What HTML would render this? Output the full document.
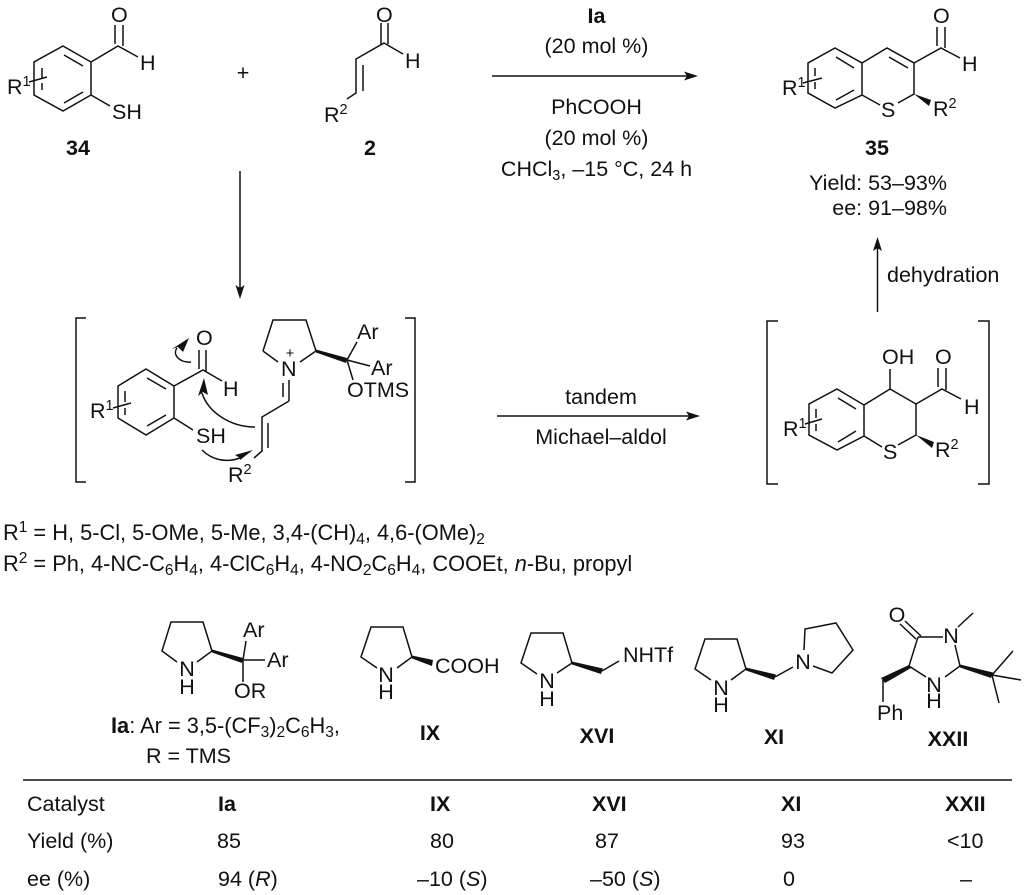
<!DOCTYPE html>
<html><head><meta charset="utf-8"><style>
html,body{margin:0;padding:0;background:#fff}
svg{display:block}
text{font-family:"Liberation Sans",sans-serif;font-size:21.5px;fill:#111}
.b{font-weight:bold}
.m{text-anchor:middle}
.e{text-anchor:end}
.s{font-size:14.5px}
.w{font-size:21.8px}
.w .s{font-size:15.5px}
.l{fill:none;stroke:#111;stroke-width:1.5;stroke-linecap:butt;stroke-linejoin:miter}
.t{stroke:none;fill:#111}
</style></head><body>
<svg width="1024" height="895" viewBox="0 0 1024 895" xmlns="http://www.w3.org/2000/svg">
<!-- 34 -->
<path class="l" d="M63,46L91,62L91,95L63,111L34,95L34,62Z M64,55L83,66 M83,92L64,103 M42,68V78 M42,83V90 M29,82L47,77 M91,62L118,46L138,57 M115,25V44 M123,25V46 M91,95L110,106"/>
<text x="111" y="22">O</text><text x="140" y="70">H</text><text x="112" y="119">SH</text>
<text x="7" y="94">R<tspan class="s" dy="-8">1</tspan></text>
<text class="b m" x="78" y="155">34</text>
<text class="m" x="243" y="80">+</text>
<!-- 2 -->
<path class="l" d="M347,99L356,93V59L384,43L403,54 M363,65V91 M381,23V44 M388,23V44"/>
<text x="376" y="22">O</text><text x="405" y="68">H</text>
<text x="324" y="122">R<tspan class="s" dy="-8">2</tspan></text>
<text class="b m" x="370" y="155">2</text>
<!-- top arrow -->
<path class="l" d="M492,76H688"/><path class="t" d="M698,76L684,71.5L687,76L684,80.5Z"/>
<text class="b m" x="596.5" y="23">Ia</text>
<text class="m" x="596.5" y="53">(20 mol %)</text>
<text class="m" x="596.5" y="114">PhCOOH</text>
<text class="m" x="596.5" y="145">(20 mol %)</text>
<text class="m" x="596.5" y="176">CHCl<tspan class="s" dy="4">3</tspan><tspan dy="-4">, –15 °C, 24 h</tspan></text>
<!-- 35 -->
<path class="l" d="M835,48L862,63V95L835,108L808,93V63Z M836,57L854,68 M854,90L836,100 M815,68V76 M815,82V89 M803,83L822,78 M862,63L887,48L914,63V94L898,103 M862,95L880,105 M889,57L908,68 M914,63L941,48L960,58 M937,27V46 M945,27V48"/>
<path class="t" d="M914,94L931,100L929,106Z"/>
<text x="933" y="23">O</text><text x="962" y="71">H</text><text x="881" y="117">S</text>
<text x="933" y="116">R<tspan class="s" dy="-8">2</tspan></text>
<text x="782" y="95">R<tspan class="s" dy="-8">1</tspan></text>
<text class="b m" x="877" y="155">35</text>
<text class="e" x="947" y="190">Yield: 53–93%</text>
<text class="e" x="947" y="215">ee: 91–98%</text>
<!-- dehydration arrow -->
<path class="l" d="M877.5,312V248"/><path class="t" d="M877.5,237L873,251L877.5,248L882,251Z"/>
<text x="887" y="282">dehydration</text>
<!-- down arrow -->
<path class="l" d="M240,171V290"/><path class="t" d="M240,299L235.5,285L240,288L244.5,285Z"/>
<!-- left bracket intermediate -->
<path class="l" d="M86,318H76V482H86 M405,318H415V482H405"/>
<path class="l" d="M146,369L174,386V418L146,435L118,418V386Z M147,378L166,389 M166,415L147,426 M125,391V402 M125,408V415 M113,408L131,403 M174,386L203,370L222,381 M199,350V369 M206,350V372 M174,418L193,430"/>
<text x="196" y="345">O</text><text x="223" y="396">H</text><text x="196" y="443">SH</text>
<text x="90" y="418">R<tspan class="s" dy="-8">1</tspan></text>
<text x="228" y="482">R<tspan class="s" dy="-8">2</tspan></text>
<path class="l" d="M263,351L273,320H306L316,351 M263,351L278,362 M316,351L300,362 M347,360L357,342 M347,360L370,366 M347,360L353,380 M289,380V401 M283,383V397 M289,401L262,417V451L254,458 M268,423V448"/>
<path class="t" d="M316,349.5L347,358L346,363L316,352.5Z"/>
<text x="281" y="376">N</text><text class="m s" x="290" y="358">+</text>
<text x="357" y="339">Ar</text><text x="371" y="375">Ar</text><text x="347" y="397">OTMS</text>
<!-- curved arrows -->
<path class="l" d="M255,427C230,427 208,412 202,393"/>
<path class="t" d="M204,378L198,396L203,392L208,395Z"/>
<path class="l" d="M202,450C212,460 226,463 240,458"/>
<path class="t" d="M253,450L235,455L240,458L240,460Z"/>
<path class="l" d="M191,362C180,363 172,355 177,348"/>
<path class="t" d="M189,338L172,349L178,347L183,352Z"/>
<!-- central arrow -->
<path class="l" d="M497,416H690"/><path class="t" d="M700,416L686,411.5L689,416L686,420.5Z"/>
<text class="m" x="601" y="404">tandem</text>
<text class="m" x="601" y="444">Michael–aldol</text>
<!-- right intermediate -->
<path class="l" d="M778,321H767V484H778 M978,321H989V484H978"/>
<path class="l" d="M837,389L864,405V436L837,450L809,435V404Z M838,398L856,409 M856,431L838,442 M816,409V418 M816,424V431 M805,424L822,419 M864,405L890,389L916,404V435L898,445 M864,436L882,447 M890,389V369 M916,404L942,389L961,399 M938,368V387 M946,368V390"/>
<path class="t" d="M916,435L934,442L932,448Z"/>
<text x="882" y="364">OH</text><text x="935" y="364">O</text><text x="964" y="414">H</text><text x="883" y="459">S</text>
<text x="935" y="457">R<tspan class="s" dy="-8">2</tspan></text>
<text x="783" y="436">R<tspan class="s" dy="-8">1</tspan></text>
<!-- R lines -->
<text class="w" x="3" y="540">R<tspan class="s" dy="-8">1</tspan><tspan dy="8"> = H, 5-Cl, 5-OMe, 5-Me, 3,4-(CH)</tspan><tspan class="s" dy="4">4</tspan><tspan dy="-4">, 4,6-(OMe)</tspan><tspan class="s" dy="4">2</tspan></text>
<text class="w" x="3" y="571">R<tspan class="s" dy="-8">2</tspan><tspan dy="8"> = Ph, 4-NC-C</tspan><tspan class="s" dy="4">6</tspan><tspan dy="-4">H</tspan><tspan class="s" dy="4">4</tspan><tspan dy="-4">, 4-ClC</tspan><tspan class="s" dy="4">6</tspan><tspan dy="-4">H</tspan><tspan class="s" dy="4">4</tspan><tspan dy="-4">, 4-NO</tspan><tspan class="s" dy="4">2</tspan><tspan dy="-4">C</tspan><tspan class="s" dy="4">6</tspan><tspan dy="-4">H</tspan><tspan class="s" dy="4">4</tspan><tspan dy="-4">, COOEt, </tspan><tspan font-style="italic">n</tspan><tspan>-Bu, propyl</tspan></text>
<!-- Ia -->
<path class="l" d="M177,662L162,651L171,622H203L212,651L197,662 M243,660L246,641 M243,660H265 M243,660V682"/>
<path class="t" d="M212,649.5L243,658L242,663L212,652.5Z"/>
<text class="m" x="187" y="676">N</text><text class="m" x="187" y="694">H</text>
<text x="243" y="637">Ar</text><text x="267" y="667">Ar</text><text x="234" y="698">OR</text>
<text class="w" x="111" y="733"><tspan font-weight="bold">Ia</tspan>: Ar = 3,5-(CF<tspan class="s" dy="4">3</tspan><tspan dy="-4">)</tspan><tspan class="s" dy="4">2</tspan><tspan dy="-4">C</tspan><tspan class="s" dy="4">6</tspan><tspan dy="-4">H</tspan><tspan class="s" dy="4">3</tspan><tspan dy="-4">,</tspan></text>
<text x="146" y="763">R = TMS</text>
<!-- IX -->
<path class="l" d="M377,668L361,657L371,627H403L412,657L397,668"/>
<path class="t" d="M412,655.5L433,660L432,666L412,658.5Z"/>
<text class="m" x="386" y="682">N</text><text class="m" x="386" y="699">H</text>
<text x="435" y="673">COOH</text>
<text class="b m" x="430" y="740">IX</text>
<!-- XVI -->
<path class="l" d="M537,674L521,663L531,633H563L572,663L557,673 M602,671L619,661"/>
<path class="t" d="M572,661.5L603,668.5L601,674L572,664.5Z"/>
<text class="m" x="547" y="688">N</text><text class="m" x="547" y="706">H</text>
<text x="623" y="662">NHTf</text>
<text class="b m" x="597" y="743">XVI</text>
<!-- XI -->
<path class="l" d="M711,680L695,669L705,639H737L746,669L731,680 M775,677L793,667 M804,650L805,629L836,623L853,650L832,673L813,666"/>
<path class="t" d="M746,667.5L776,674.5L774,680L746,670.5Z"/>
<text class="m" x="721" y="695">N</text><text class="m" x="721" y="712">H</text>
<text class="m" x="803" y="669">N</text>
<text class="b m" x="774" y="744">XI</text>
<!-- XXII -->
<path class="l" d="M905,621L921,636 M900,624L916,639 M918,637H943 M958,627L973,613 M955,645L960,666L945,677 M926,677L909,666L918,637 M883,680V702 M992,675L1013,651 M992,675L1021,680 M992,675L999,703"/>
<path class="t" d="M909,665L911,668L885,683L881,678Z"/>
<path class="t" d="M960,664.5L993,672.5L991,678L960,667.5Z"/>
<text class="m" x="897" y="622">O</text>
<text class="m" x="951" y="643">N</text>
<text class="m" x="934" y="692">N</text><text class="m" x="934" y="708">H</text>
<text x="877" y="720">Ph</text>
<text class="b m" x="948" y="746">XXII</text>
<!-- table -->
<path class="l" d="M23,780H1012"/>
<text x="27" y="811">Catalyst</text>
<text x="27" y="848">Yield (%)</text>
<text x="27" y="886">ee (%)</text>
<text class="b" x="218" y="811">Ia</text>
<text class="b" x="430" y="811">IX</text>
<text class="b" x="592" y="811">XVI</text>
<text class="b" x="781" y="811">XI</text>
<text class="b" x="945" y="811">XXII</text>
<text x="217" y="848">85</text>
<text x="430" y="848">80</text>
<text x="595" y="848">87</text>
<text x="781" y="848">93</text>
<text x="947" y="848">&lt;10</text>
<text x="218" y="886">94 (<tspan font-style="italic">R</tspan>)</text>
<text x="417" y="886">–10 (<tspan font-style="italic">S</tspan>)</text>
<text x="590" y="886">–50 (<tspan font-style="italic">S</tspan>)</text>
<text x="783" y="886">0</text>
<text x="960" y="886">–</text>
</svg>
</body></html>
